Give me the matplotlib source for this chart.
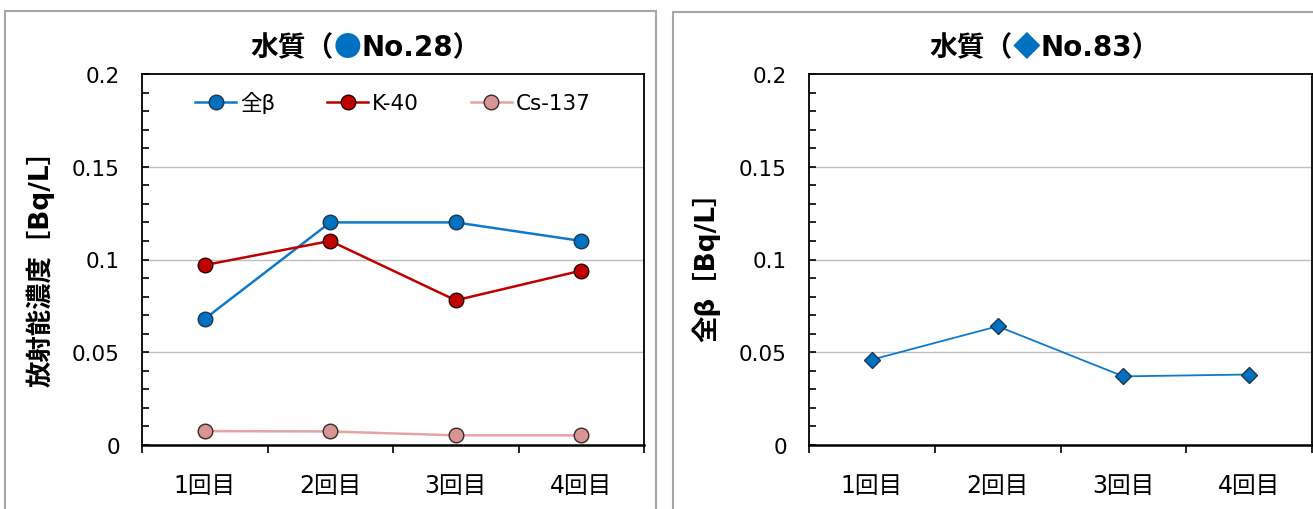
import matplotlib
matplotlib.use('Agg')
from matplotlib import pyplot as plt
import matplotlib.patches as mpatches
from matplotlib.offsetbox import TextArea, HPacker, AnnotationBbox
from matplotlib.ticker import MultipleLocator

plt.rcParams['font.family'] = ['DejaVu Sans', 'Noto Sans CJK JP']

categories = ['1回目', '2回目', '3回目', '4回目']
zen_beta_28 = [0.068, 0.12, 0.12, 0.11]
k40_28 = [0.097, 0.11, 0.078, 0.094]
cs137_28 = [0.0075, 0.0073, 0.0052, 0.0052]
zen_beta_83 = [0.046, 0.064, 0.037, 0.038]

MIX = ['DejaVu Sans', 'Noto Sans CJK JP']
JP = ['Noto Sans CJK JP', 'DejaVu Sans']
W, H = 1313, 510

fig = plt.figure(figsize=(W / 100, H / 100), dpi=100)

# panel frames (in pixels, converted)
def px_rect(x0, y0, x1, y1):
    return mpatches.Rectangle((x0 / W, 1 - y1 / H), (x1 - x0) / W, (y1 - y0) / H,
                              transform=fig.transFigure, fill=False,
                              edgecolor='#A6A6A6', linewidth=1.5, zorder=0)

fig.patches.append(px_rect(5, 12, 656, 530))
fig.patches.append(px_rect(673, 13, 1330, 530))

ax1 = fig.add_axes([142 / W, 1 - 446 / H, (644 - 142) / W, 371 / H])
ax2 = fig.add_axes([809 / W, 1 - 446 / H, (1312 - 809) / W, 371 / H])

x = list(range(len(categories)))

ax1.plot(x, zen_beta_28, '-o', color='#0F7ACB', mfc='#0070C0', mec='#1F3550',
         ms=10.5, lw=1.8, label='全β', zorder=4)
ax1.plot(x, k40_28, '-o', color='#C00000', mfc='#C00000', mec='#2B0000',
         ms=10.5, lw=1.8, label='K-40', zorder=4)
ax1.plot(x, cs137_28, '-o', color='#E6A3A3', mfc='#D99594', mec='#3A2A2A',
         ms=10.5, lw=1.8, label='Cs-137', zorder=3)

ax2.plot(x, zen_beta_83, '-D', color='#0F7ACB', mfc='#0070C0', mec='#1F3550',
         ms=8.5, lw=1.3, zorder=4)

for ax in (ax1, ax2):
    ax.set_xlim(-0.5, len(categories) - 0.5)
    ax.set_ylim(0, 0.2)
    ax.yaxis.set_minor_locator(MultipleLocator(0.01))
    ax.set_yticks([0, 0.05, 0.1, 0.15, 0.2])
    ax.set_yticklabels(['0', '0.05', '0.1', '0.15', '0.2'])
    ax.tick_params(axis='y', which='both', direction='in', length=5, width=1.2,
                   labelsize=15.5, pad=16)
    ax.set_xticks([i - 0.5 for i in range(len(categories) + 1)])
    ax.set_xticklabels([])
    ax.set_xticks(x, minor=True)
    ax.set_xticklabels(categories, minor=True, fontsize=17, family=MIX)
    ax.tick_params(axis='x', which='major', direction='out', length=6, width=1.2)
    ax.tick_params(axis='x', which='minor', length=0, pad=20)
    for y in (0.05, 0.1, 0.15):
        ax.axhline(y, color='#BFBFBF', lw=1, zorder=1)
    for s in ax.spines.values():
        s.set_linewidth(1.3)
        s.set_color('black')
    ax.spines['bottom'].set_linewidth(1.8)

ax1.legend(loc='center', bbox_to_anchor=(393 / W, 1 - 103 / H),
           bbox_transform=fig.transFigure, ncol=3, frameon=False,
           prop={'family': MIX, 'size': 15.5}, handlelength=1.9,
           handletextpad=0.2, columnspacing=2.4)

fig.text(40 / W, 1 - 262 / H, '放射能濃度［Bq/L］', rotation=90, ha='center',
         va='center', fontsize=19, fontweight='bold', family=MIX)
fig.text(706 / W, 1 - 260 / H, '全β［Bq/L］', rotation=90, ha='center',
         va='center', fontsize=19, fontweight='bold', family=MIX)

# titles with coloured symbol
def title(xc, yc, sym, label):
    tp = dict(family=MIX, fontsize=20, fontweight='bold', color='black')
    parts = [TextArea('水質（', textprops=tp),
             TextArea(sym, textprops=dict(tp, color='#0070C0', family=JP)),
             TextArea(label + '）', textprops=tp)]
    box = HPacker(children=parts, pad=0, sep=0, align='baseline')
    ab = AnnotationBbox(box, (xc, H - yc), xycoords='figure pixels',
                        frameon=False, box_alignment=(0.5, 0.5), pad=0)
    fig.add_artist(ab)

title(366, 48, '●', 'No.28')
title(1045, 48, '◆', 'No.83')

plt.savefig('out.png', dpi=100)
